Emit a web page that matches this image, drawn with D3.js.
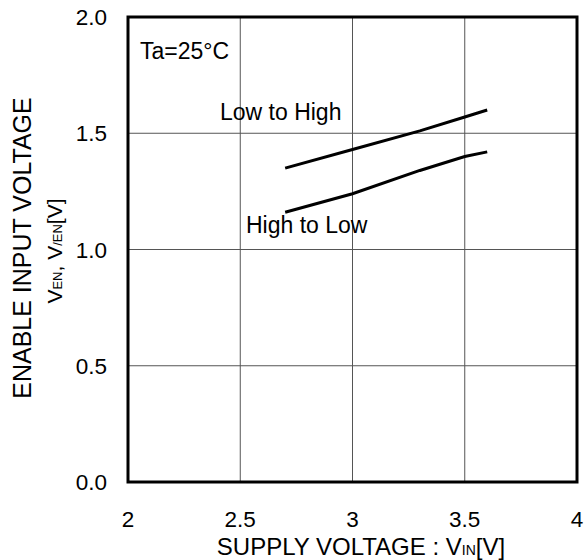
<!DOCTYPE html>
<html><head><meta charset="utf-8">
<script src="https://cdn.jsdelivr.net/npm/d3@7"></script>
<style>body{margin:0;background:#fff}text{font-family:"Liberation Sans",Arial,sans-serif;fill:#000}</style>
</head><body>
<svg id="c" width="586" height="560"></svg>
<script>
const xTicks = [2, 2.5, 3, 3.5, 4];
const yTicks = [0.0, 0.5, 1.0, 1.5, 2.0];
const vin = [2.7, 3.0, 3.3, 3.5, 3.6];
const lowToHigh = [1.35, 1.43, 1.51, 1.57, 1.60];
const highToLow = [1.16, 1.24, 1.34, 1.40, 1.42];

const svg = d3.select("#c");
const L = 128, R = 577, T = 17, B = 482;
const x = d3.scaleLinear().domain([2, 4]).range([L, R]);
const y = d3.scaleLinear().domain([0, 2]).range([B, T]);

// grid
svg.append("g").selectAll("line").data(xTicks.slice(1, -1)).join("line")
  .attr("x1", d => x(d)).attr("x2", d => x(d)).attr("y1", T).attr("y2", B)
  .attr("stroke", "#555").attr("stroke-width", 1);
svg.append("g").selectAll("line").data(yTicks.slice(1, -1)).join("line")
  .attr("y1", d => y(d)).attr("y2", d => y(d)).attr("x1", L).attr("x2", R)
  .attr("stroke", "#555").attr("stroke-width", 1);

// tick labels
svg.append("g").selectAll("text").data(xTicks).join("text")
  .attr("x", d => x(d)).attr("y", 527).attr("text-anchor", "middle")
  .attr("font-size", 22.5).text(d => d3.format("")(d));
svg.append("g").selectAll("text").data(yTicks).join("text")
  .attr("x", 107).attr("y", d => y(d)).attr("dy", "0.36em").attr("text-anchor", "end")
  .attr("font-size", 22.5).text(d => d.toFixed(1));

// series
const line = d3.line().x(d => x(d[0])).y(d => y(d[1]));
[lowToHigh, highToLow].forEach(s => {
  svg.append("path").datum(vin.map((v, i) => [v, s[i]]))
    .attr("d", line).attr("fill", "none").attr("stroke", "#000").attr("stroke-width", 3);
});

// frame
svg.append("rect").attr("x", L).attr("y", T).attr("width", R - L).attr("height", B - T)
  .attr("fill", "none").attr("stroke", "#000").attr("stroke-width", 3);

// annotations
svg.append("text").attr("x", 140).attr("y", 59).attr("font-size", 23).text("Ta=25°C");
svg.append("text").attr("x", 220).attr("y", 120).attr("font-size", 23).text("Low to High");
svg.append("text").attr("x", 246).attr("y", 233).attr("font-size", 23).text("High to Low");

// x title
const xt = svg.append("text").attr("x", 361).attr("y", 555).attr("text-anchor", "middle").attr("font-size", 24);
xt.append("tspan").text("SUPPLY VOLTAGE : V");
xt.append("tspan").attr("font-size", 14).text("IN");
xt.append("tspan").text("[V]");

// y titles
svg.append("text").attr("transform", "translate(31,248) rotate(-90)").attr("text-anchor", "middle")
  .attr("font-size", 25).text("ENABLE INPUT VOLTAGE");
const yt = svg.append("text").attr("transform", "translate(62,251) rotate(-90)").attr("text-anchor", "middle").attr("font-size", 21);
yt.append("tspan").text("V");
yt.append("tspan").attr("font-size", 13).text("EN");
yt.append("tspan").text(", V");
yt.append("tspan").attr("font-size", 13).text("/EN");
yt.append("tspan").text("[V]");
</script>
</body></html>
